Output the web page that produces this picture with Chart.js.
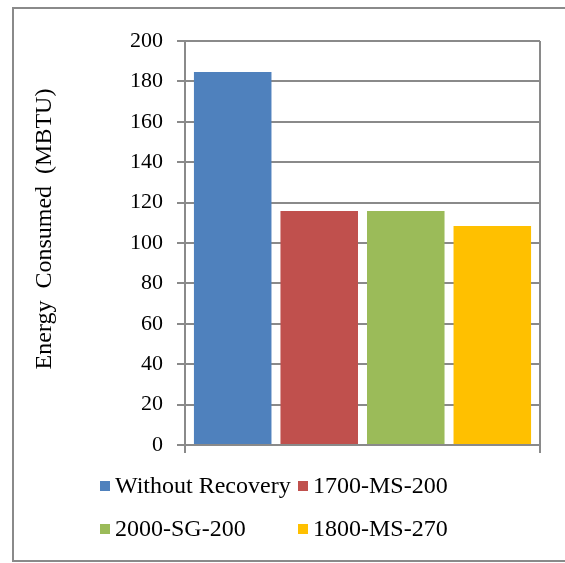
<!DOCTYPE html>
<html>
<head>
<meta charset="utf-8">
<title>Energy Consumed</title>
<script src="https://cdn.jsdelivr.net/npm/chart.js@4/dist/chart.umd.min.js"></script>
<style>
  html, body { margin: 0; padding: 0; background: #ffffff; }
  #wrap { position: relative; width: 565px; height: 563px; overflow: hidden; }
  canvas { display: block; }
</style>
</head>
<body>
<div id="wrap"><canvas id="chart" width="565" height="563"></canvas></div>
<script>
// Data
const categories = [''];
const seriesNames = ['Without Recovery', '1700-MS-200', '2000-SG-200', '1800-MS-270'];
const seriesValues = [184.6, 115.8, 115.8, 108.4];
const seriesColors = ['#4F81BD', '#C0504D', '#9BBB59', '#FFC000'];
const yTicks = [0, 20, 40, 60, 80, 100, 120, 140, 160, 180, 200];
const yTitle = 'Energy  Consumed  (MBTU)';

const FONT = '"Liberation Serif", "Times New Roman", serif';
const LINE = '#8a8a8a';

// Outer frame, rotated axis title and two-column legend
const decorations = {
  id: 'decorations',
  beforeDraw(chart) {
    const ctx = chart.ctx;
    ctx.save();
    ctx.fillStyle = '#ffffff';
    ctx.fillRect(0, 0, chart.width, chart.height);
    ctx.strokeStyle = LINE;
    ctx.lineWidth = 2;
    ctx.strokeRect(13, 8, 620, 553);
    ctx.restore();
  },
  afterDraw(chart) {
    const ctx = chart.ctx;
    ctx.save();
    ctx.fillStyle = '#000000';
    ctx.font = '24px ' + FONT;
    // y axis title
    ctx.save();
    ctx.translate(45, 229);
    ctx.rotate(-Math.PI / 2);
    ctx.textAlign = 'center';
    ctx.textBaseline = 'middle';
    ctx.fillText(yTitle, 0, 0);
    ctx.restore();
    // legend
    const colX = [100, 298];
    const rowY = [486, 529];
    ctx.textAlign = 'left';
    ctx.textBaseline = 'middle';
    chart.data.datasets.forEach((ds, i) => {
      const x = colX[i % 2];
      const y = rowY[Math.floor(i / 2)];
      ctx.fillStyle = ds.backgroundColor;
      ctx.fillRect(x, y - 5, 10, 10);
      ctx.fillStyle = '#000000';
      ctx.fillText(ds.label, x + 15, y + 1);
    });
    ctx.restore();
  }
};

new Chart(document.getElementById('chart'), {
  type: 'bar',
  data: {
    labels: categories,
    datasets: seriesNames.map((name, i) => ({
      label: name,
      data: [seriesValues[i]],
      backgroundColor: seriesColors[i],
      borderWidth: 0,
      categoryPercentage: 0.975,
      barPercentage: 0.896
    }))
  },
  options: {
    responsive: false,
    devicePixelRatio: 1,
    animation: false,
    layout: { padding: { left: 0, top: 41, right: 25, bottom: 0 } },
    plugins: {
      legend: { display: false },
      tooltip: { enabled: false },
      title: { display: false }
    },
    scales: {
      x: {
        offset: true,
        grid: {
          display: true,
          offset: true,
          color: LINE,
          lineWidth: 2,
          drawTicks: true,
          tickLength: 8,
          tickColor: LINE
        },
        border: { display: true, color: LINE, width: 2 },
        ticks: { display: false },
        afterFit(scale) { scale.height = 118; }
      },
      y: {
        min: 0,
        max: 200,
        afterBuildTicks(scale) { scale.ticks = yTicks.map(v => ({ value: v })); },
        grid: {
          color: LINE,
          lineWidth: 2,
          drawTicks: true,
          tickLength: 8,
          tickColor: LINE
        },
        border: { display: true, color: LINE, width: 2 },
        ticks: {
          color: '#000000',
          padding: 14,
          font: { family: FONT, size: 22 }
        },
        afterFit(scale) { scale.width = 185; }
      }
    }
  },
  plugins: [decorations]
});
</script>
</body>
</html>
